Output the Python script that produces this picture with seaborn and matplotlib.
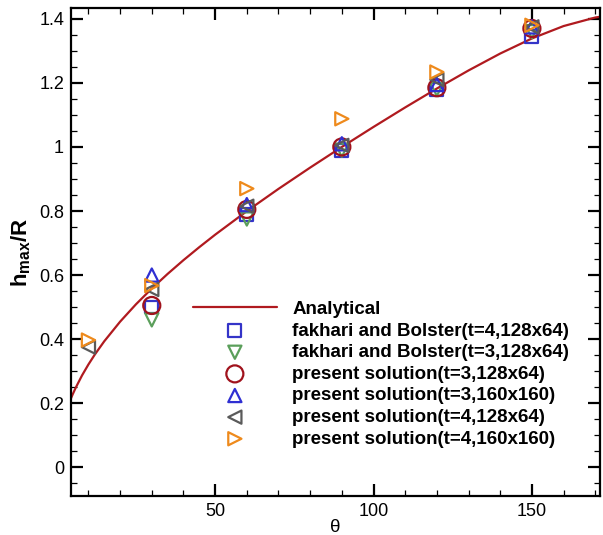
import numpy as np
import pandas as pd
import matplotlib
matplotlib.use("Agg")
import matplotlib.pyplot as plt
from matplotlib.ticker import MultipleLocator, FuncFormatter
import seaborn as sns

# Analytical curve h_max/R versus contact angle
theta_curve = [4, 4.5, 5, 6, 8, 10, 12, 15, 20, 25, 30, 35, 40, 45, 50, 60, 70,
               80, 90, 100, 110, 120, 130, 140, 150, 160, 170, 175]
h_curve = [0.2028, 0.2151, 0.2268, 0.2484, 0.2869, 0.3208, 0.3515, 0.3932,
           0.4544, 0.5086, 0.5579, 0.6036, 0.6465, 0.6871, 0.7260, 0.7996,
           0.8691, 0.9356, 1.0, 1.0626, 1.1235, 1.1825, 1.2390, 1.2918,
           1.3389, 1.3776, 1.4043, 1.4116]

# Simulation results
theta_fb4 = [30, 60, 90, 120, 150]
h_fb4 = [0.50, 0.79, 0.99, 1.18, 1.345]
theta_fb3 = [30, 60, 90, 120, 150]
h_fb3 = [0.46, 0.775, 0.99, 1.18, 1.36]
theta_p3_128 = [30, 60, 90, 120, 150]
h_p3_128 = [0.505, 0.805, 1.0, 1.185, 1.37]
theta_p3_160 = [30, 60, 90, 120, 150]
h_p3_160 = [0.60, 0.82, 1.01, 1.195, 1.375]
theta_p4_128 = [10, 30, 60, 90, 120, 150]
h_p4_128 = [0.375, 0.555, 0.815, 1.005, 1.21, 1.375]
theta_p4_160 = [10, 30, 60, 90, 120, 150]
h_p4_160 = [0.397, 0.567, 0.87, 1.088, 1.234, 1.38]

labels = [
    "Analytical",
    "fakhari and Bolster(t=4,128x64)",
    "fakhari and Bolster(t=3,128x64)",
    "present solution(t=3,128x64)",
    "present solution(t=3,160x160)",
    "present solution(t=4,128x64)",
    "present solution(t=4,160x160)",
]

sns.set_style("ticks")
plt.rcParams["font.family"] = ["Liberation Sans", "DejaVu Sans"]
plt.rcParams["mathtext.fontset"] = "custom"
plt.rcParams["mathtext.rm"] = "Liberation Sans"
plt.rcParams["mathtext.it"] = "Liberation Sans"
plt.rcParams["mathtext.bf"] = "Liberation Sans:bold"
for key in ["text.color", "axes.labelcolor", "xtick.color", "ytick.color",
            "axes.edgecolor"]:
    plt.rcParams[key] = "black"

fig = plt.figure(figsize=(6.03, 5.35), dpi=100)
ax = fig.add_axes([71 / 603, 1 - 496 / 535, 529 / 603, 488 / 535])

curve = pd.DataFrame({"theta": theta_curve, "h": h_curve})
sns.lineplot(data=curve, x="theta", y="h", ax=ax, color="#b01a1f",
             linewidth=1.6, sort=False, estimator=None)
line_handle = ax.lines[-1]

series = [
    (theta_fb4, h_fb4, "s", "#3434c8", 85),
    (theta_fb3, h_fb3, "v", "#5b9f5b", 90),
    (theta_p3_128, h_p3_128, "o", "#a0121c", 150),
    (theta_p3_160, h_p3_160, "^", "#2f2fd2", 90),
    (theta_p4_128, h_p4_128, "<", "#5a5a5a", 90),
    (theta_p4_160, h_p4_160, ">", "#ee8a1c", 90),
]
handles = [line_handle]
for xs, ys, mk, col, size in series:
    sns.scatterplot(x=xs, y=ys, ax=ax, marker=mk, s=size,
                    facecolor="none", edgecolor=col, linewidth=1.6,
                    zorder=3)
    handles.append(ax.collections[-1])

ax.set_xlim(4.5, 171.5)
ax.set_ylim(-0.09, 1.434)

ax.xaxis.set_major_locator(MultipleLocator(50))
ax.xaxis.set_minor_locator(MultipleLocator(10))
ax.yaxis.set_major_locator(MultipleLocator(0.2))
ax.yaxis.set_minor_locator(MultipleLocator(0.05))
fmt = FuncFormatter(lambda v, p: "%g" % round(v, 6))
ax.xaxis.set_major_formatter(fmt)
ax.yaxis.set_major_formatter(fmt)

ax.tick_params(which="both", direction="in", top=True, right=True,
               labelsize=13, colors="black")
ax.tick_params(which="major", length=8.5, width=1.6, pad=5)
ax.tick_params(which="minor", length=4.3, width=0.9)
for sp in ax.spines.values():
    sp.set_linewidth(1.6)
    sp.set_color("black")

ax.set_xlabel("\u03b8", fontsize=13.5, labelpad=-1)
ax.set_ylabel(r"$\mathbf{h_{max}/R}$", fontsize=16, labelpad=4)

ax.legend(handles, labels, loc="upper left", bbox_to_anchor=(0.23, 0.40),
          frameon=False, scatterpoints=1, handlelength=4.5,
          handletextpad=0.8, labelspacing=0.24, borderpad=0, borderaxespad=0,
          prop={"weight": "bold", "size": 13.5})

fig.savefig("out.png", dpi=100)
